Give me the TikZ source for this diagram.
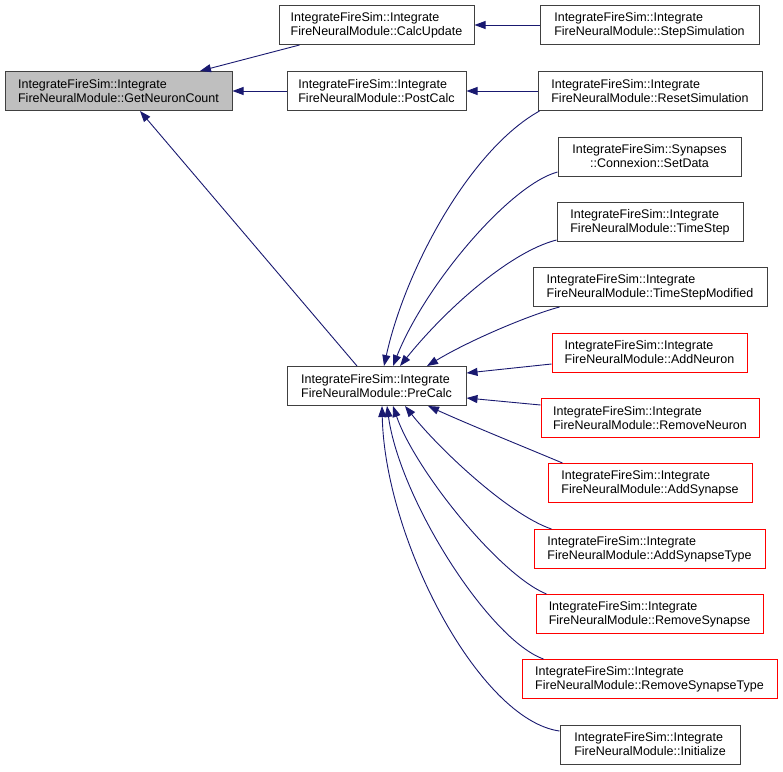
\documentclass[tikz,border=0pt]{standalone}
\usepackage{fontspec}
\setmainfont{Liberation Sans}
\usetikzlibrary{positioning, arrows.meta, calc}
\definecolor{calledge}{RGB}{25,25,112}
\definecolor{rootfill}{RGB}{191,191,191}
\definecolor{boxline}{RGB}{64,64,64}

\begin{document}
\begin{tikzpicture}[x=1pt, y=-1pt,
    func/.style={draw=boxline, line width=1pt, fill=white, inner sep=0pt,
        minimum height=39pt, align=left, font=\fontsize{12.5}{14}\selectfont},
    undoc/.style={func, draw=red},
    call/.style={-{Triangle[length=11pt, width=8pt]}, draw=calledge, line width=0.9pt}]
    \useasboundingbox (0,0) rectangle (783,771);

    % Function being called
    \node[func, fill=rootfill, minimum width=227pt] (count) at (118.5,91)
        {IntegrateFireSim::Integrate\\FireNeuralModule::GetNeuronCount};

    % Direct callers
    \node[func, minimum width=195pt] (calcupd) at (376.5,25)
        {IntegrateFireSim::Integrate\\FireNeuralModule::CalcUpdate};
    \node[func, minimum width=179pt] (postcalc) at (376.5,91)
        {IntegrateFireSim::Integrate\\FireNeuralModule::PostCalc};
    \node[func, minimum width=179pt] (precalc) at (376.5,386)
        {IntegrateFireSim::Integrate\\FireNeuralModule::PreCalc};

    % Callers of the callers
    \node[func, minimum width=219pt] (stepsim) at (649.5,25)
        {IntegrateFireSim::Integrate\\FireNeuralModule::StepSimulation};
    \node[func, minimum width=224pt] (resetsim) at (650,91)
        {IntegrateFireSim::Integrate\\FireNeuralModule::ResetSimulation};
    \node[func, minimum width=183pt, align=center] (setdata) at (649.5,156.5)
        {IntegrateFireSim::Synapses\\::Connexion::SetData};
    \node[func, minimum width=186pt] (timestep) at (650,222)
        {IntegrateFireSim::Integrate\\FireNeuralModule::TimeStep};
    \node[func, minimum width=234pt] (timestepmod) at (650,287)
        {IntegrateFireSim::Integrate\\FireNeuralModule::TimeStepModified};
    \node[undoc, minimum width=195pt] (addneuron) at (649.5,352.5)
        {IntegrateFireSim::Integrate\\FireNeuralModule::AddNeuron};
    \node[undoc, minimum width=218pt] (removeneuron) at (650,418)
        {IntegrateFireSim::Integrate\\FireNeuralModule::RemoveNeuron};
    \node[undoc, minimum width=204pt] (addsyn) at (650,483)
        {IntegrateFireSim::Integrate\\FireNeuralModule::AddSynapse};
    \node[undoc, minimum width=231pt] (addsyntype) at (649.5,549)
        {IntegrateFireSim::Integrate\\FireNeuralModule::AddSynapseType};
    \node[undoc, minimum width=227pt] (removesyn) at (649.5,614)
        {IntegrateFireSim::Integrate\\FireNeuralModule::RemoveSynapse};
    \node[undoc, minimum width=255pt] (removesyntype) at (649.5,679)
        {IntegrateFireSim::Integrate\\FireNeuralModule::RemoveSynapseType};
    \node[func, minimum width=180pt] (init) at (650,744.5)
        {IntegrateFireSim::Integrate\\FireNeuralModule::Initialize};

    % Calls into GetNeuronCount
    \draw[call] ($(calcupd.south west)+(21,0)$) -- ($(count.north)+(81.5,0)$);
    \draw[call] (postcalc) -- (count);
    \draw[call] ($(precalc.north)+(-19.5,0)$) -- ($(count.south)+(21.5,0)$);

    % Calls into CalcUpdate and PostCalc
    \draw[call] (stepsim) -- (calcupd);
    \draw[call] (resetsim) -- (postcalc);

    % Calls into PreCalc from above
    \draw[call] ($(resetsim.south west)+(2,0)$) .. controls +(-70,39) and +(21,-96) .. ($(precalc.north)+(7.5,0)$);
    \draw[call] ($(setdata.south west)+(0,-4.5)$) .. controls +(-48,13) and +(32,-81) .. ($(precalc.north)+(16.5,0)$);
    \draw[call] ($(timestep.south west)+(0,-2)$) .. controls +(-47,12) and +(45,-56) .. ($(precalc.north)+(23.5,0)$);
    \draw[call] ($(timestepmod.south west)+(27,0)$) .. controls +(-30,8) and +(43,-26) .. ($(precalc.north)+(50.5,0)$);

    % Calls into PreCalc from the side
    \draw[call] ($(addneuron.west)+(0,11.5)$) -- ($(precalc.east)+(0,-13)$);
    \draw[call] ($(removeneuron.west)+(0,-13)$) -- ($(precalc.east)+(0,12)$);

    % Calls into PreCalc from below
    \draw[call] ($(addsyn.north west)+(15,0)$) .. controls +(-43,-18) and +(42,19) .. ($(precalc.south)+(51.5,0)$);
    \draw[call] ($(addsyntype.north west)+(18,0)$) .. controls +(-42,-14) and +(35,44) .. ($(precalc.south)+(28.5,0)$);
    \draw[call] ($(removesyn.north west)+(11,0)$) .. controls +(-47,-19) and +(22,64) .. ($(precalc.south)+(16.5,0)$);
    \draw[call] ($(removesyntype.north west)+(22,0)$) .. controls +(-54,-19) and +(13,94) .. ($(precalc.south)+(10.5,0)$);
    \draw[call] ($(init.west)+(0,-13.5)$) .. controls +(-80,-11) and +(3,134) .. ($(precalc.south)+(5.5,0)$);
\end{tikzpicture}
\end{document}
